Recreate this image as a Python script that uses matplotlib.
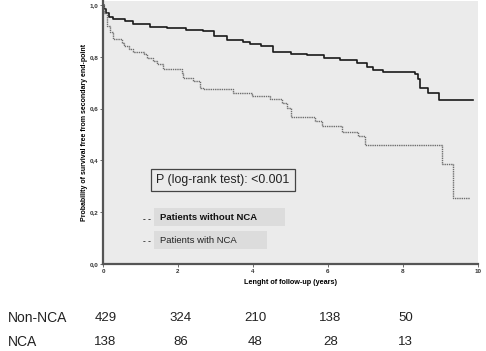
import matplotlib
matplotlib.use("Agg")
import matplotlib.pyplot as plt
from matplotlib.patches import Rectangle

# Kaplan-Meier curves
t_non = [0, 0.03, 0.08, 0.15, 0.27, 0.59, 0.8, 1.25, 1.7, 2.2, 2.67, 2.95, 3.3, 3.73, 3.92,
         4.2, 4.53, 5.0, 5.43, 5.9, 6.32, 6.77, 7.04, 7.2, 7.47, 8.32, 8.4, 8.45, 8.67, 8.96, 9.87]
s_non = [1.0, 0.985, 0.97, 0.955, 0.946, 0.939, 0.926, 0.917, 0.91, 0.905, 0.898, 0.881, 0.866,
         0.859, 0.849, 0.84, 0.82, 0.812, 0.806, 0.797, 0.787, 0.778, 0.759, 0.75, 0.74, 0.733,
         0.716, 0.681, 0.659, 0.632, 0.632]

t_nca = [0, 0.03, 0.1, 0.18, 0.27, 0.5, 0.55, 0.68, 0.81, 1.08, 1.17, 1.34, 1.43, 1.61, 2.1,
         2.14, 2.41, 2.59, 2.67, 3.47, 3.96, 4.45, 4.76, 4.9, 5.0, 5.65, 5.83, 6.37, 6.81, 6.99,
         9.05, 9.34, 9.79]
s_nca = [1.0, 0.97, 0.92, 0.895, 0.868, 0.855, 0.842, 0.829, 0.82, 0.81, 0.797, 0.784, 0.771,
         0.752, 0.736, 0.72, 0.707, 0.681, 0.674, 0.659, 0.649, 0.636, 0.623, 0.603, 0.569, 0.552,
         0.532, 0.51, 0.493, 0.461, 0.386, 0.255, 0.255]

# numbers at risk
risk_times = [0, 2, 4, 6, 8]
risk_non = [429, 324, 210, 138, 50]
risk_nca = [138, 86, 48, 28, 13]

xticks = [0, 2, 4, 6, 8, 10]
yticks = [0.0, 0.2, 0.4, 0.6, 0.8, 1.0]
ytick_labels = ["0,0", "0,2", "0,4", "0,6", "0,8", "1,0"]

plt.rcParams["font.family"] = ["Liberation Sans", "DejaVu Sans"]

fig = plt.figure(figsize=(4.86, 3.51), dpi=100)
ax = fig.add_axes([103 / 486, 1 - 264 / 351, 375 / 486, 263 / 351])
ax.set_facecolor("#ebebeb")

ax.step(t_non, s_non, where="post", color="#1a1a1a", linewidth=1.2)
ax.step(t_nca, s_nca, where="post", color="#6e6e6e", linewidth=1.0, linestyle=(0, (1, 0.6)))

ax.set_xlim(0, 10)
ax.set_ylim(0, 1.0 + 4 / 258)
ax.set_xticks(xticks)
ax.set_xticklabels([str(x) for x in xticks])
ax.set_yticks(yticks)
ax.set_yticklabels(ytick_labels)
ax.tick_params(labelsize=4.5, length=2, width=0.6, color="#555555", pad=1.5)
for lab in ax.get_xticklabels() + ax.get_yticklabels():
    lab.set_fontweight("bold")
    lab.set_color("#333333")

for side in ["top", "right"]:
    ax.spines[side].set_visible(False)
for side in ["left", "bottom"]:
    ax.spines[side].set_linewidth(1.6)
    ax.spines[side].set_color("#555555")

ax.set_xlabel("Lenght of follow-up (years)", fontsize=5.2, fontweight="bold", labelpad=4)
ax.set_ylabel("Probability of survival free from secondary end-point", fontsize=5,
              fontweight="bold", labelpad=1)

# p-value box
ax.text(1.42, 0.326, "P (log-rank test): <0.001", fontsize=8.9, color="#222222",
        va="center", ha="left",
        bbox=dict(boxstyle="square,pad=0.4", facecolor="#ebebeb", edgecolor="#444444",
                  linewidth=0.9))

# legend-like labels with grey bands
ax.add_patch(Rectangle((1.36, 0.146), 3.49, 0.071, facecolor="#dcdcdc", edgecolor="none"))
ax.add_patch(Rectangle((1.36, 0.057), 3.01, 0.072, facecolor="#dcdcdc", edgecolor="none"))
ax.text(1.52, 0.178, "Patients without NCA", fontsize=6.8, fontweight="bold", color="#111111",
        va="center", ha="left")
ax.text(1.52, 0.091, "Patients with NCA", fontsize=6.8, color="#222222",
        va="center", ha="left")
ax.text(1.16, 0.17, "- -", fontsize=6, fontweight="bold", color="#111111", va="center", ha="center")
ax.text(1.16, 0.086, "- -", fontsize=6, fontweight="bold", color="#222222", va="center", ha="center")

# numbers at risk table
fig.text(8 / 486, 1 - 318 / 351, "Non-NCA", fontsize=10, va="center", ha="left", color="#222222")
fig.text(8 / 486, 1 - 342 / 351, "NCA", fontsize=10, va="center", ha="left", color="#222222")
for tm, a, b in zip(risk_times, risk_non, risk_nca):
    x_fig = fig.transFigure.inverted().transform(ax.transData.transform((tm, 0)))[0]
    fig.text(x_fig + 0.005, 1 - 318 / 351, str(a), fontsize=9.5, ha="center", va="center",
             color="#222222")
    fig.text(x_fig + 0.005, 1 - 342 / 351, str(b), fontsize=9.5, ha="center", va="center",
             color="#222222")

fig.savefig("out.png", dpi=100)
